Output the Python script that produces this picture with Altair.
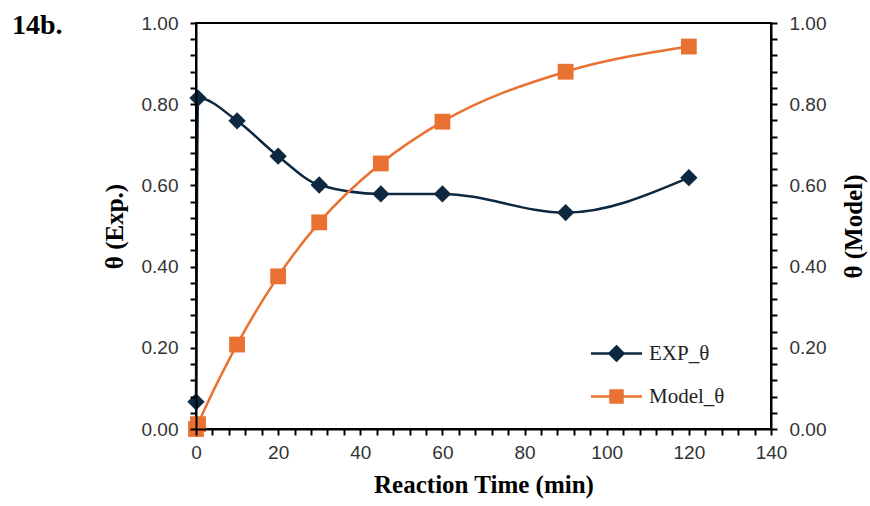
import altair as alt
import pandas as pd

# Reaction time (min) and surface coverage theta
time_exp = [0, 0.5, 10, 20, 30, 45, 60, 90, 120]
theta_exp = [0.067, 0.815, 0.759, 0.672, 0.601, 0.579, 0.579, 0.533, 0.619]
time_model = [0, 0.5, 10, 20, 30, 45, 60, 90, 120]
theta_model = [0.0, 0.012, 0.208, 0.376, 0.509, 0.654, 0.757, 0.880, 0.942]

series_names = ["EXP_θ", "Model_θ"]
series_colors = ["#0E2841", "#E97132"]

x_ticks = list(range(0, 141, 4))
y_ticks = [round(i * 0.04, 2) for i in range(26)]

exp_df = pd.DataFrame({"time": time_exp, "theta": theta_exp})
model_df = pd.DataFrame({"time": time_model, "theta": theta_model})
legend_df = pd.DataFrame({"series": series_names})

major_x = "datum.value % 20 === 0"
major_y = "abs(datum.value * 5 - round(datum.value * 5)) < 0.001"

line_style = dict(
    zindex=1,
    domainColor="#000000",
    domainOpacity=1,
    domainWidth=2,
    tickColor="#000000",
    tickOpacity=1,
    tickWidth=2,
    tickSize=6,
    labelOverlap=False,
)

x_axis = alt.Axis(
    title="Reaction Time (min)",
    values=x_ticks,
    labelExpr=f"{major_x} ? datum.label : ''",
    labelFlush=False,
    labelPadding=8,
    titlePadding=10,
    gridOpacity=0,
    **line_style,
)
x_scale = alt.Scale(domain=[0, 140], nice=False, zero=False)
y_scale = alt.Scale(domain=[0, 1], nice=False)


def y_axis(title, orient, title_baseline, title_padding):
    return alt.Axis(
        title=title,
        orient=orient,
        values=y_ticks,
        format=".2f",
        labelExpr=f"{major_y} ? datum.label : ''",
        labelPadding=12,
        titleAngle=270,
        titleBaseline=title_baseline,
        titlePadding=title_padding,
        gridOpacity=0,
        **line_style,
    )


def encode_xy(chart, axis):
    return chart.encode(
        x=alt.X("time:Q", scale=x_scale, axis=x_axis),
        y=alt.Y("theta:Q", scale=y_scale, axis=axis),
    )


exp_line = encode_xy(
    alt.Chart(exp_df).mark_line(interpolate="monotone", color=series_colors[0], strokeWidth=2.5),
    y_axis("θ (Exp.)", "left", "bottom", 14),
)
exp_pts = encode_xy(
    alt.Chart(exp_df).mark_point(shape="diamond", filled=True, size=300, opacity=1, color=series_colors[0]),
    None,
)
model_line = encode_xy(
    alt.Chart(model_df).mark_line(interpolate="monotone", color=series_colors[1], strokeWidth=2.5),
    y_axis("θ (Model)", "right", "top", 16),
)
model_pts = encode_xy(
    alt.Chart(model_df).mark_point(shape="square", filled=True, size=250, opacity=1, color=series_colors[1]),
    None,
)

# Legend symbols: a short line with the series marker on it
legend_shapes = [
    "M-1.7,0L1.7,0M0,-0.47L0.47,0L0,0.47L-0.47,0Z",
    "M-1.7,0L1.7,0M-0.4,-0.4L0.4,-0.4L0.4,0.4L-0.4,0.4Z",
]
legend_params = dict(
    title=None,
    orient="none",
    legendX=404,
    legendY=314,
    symbolSize=900,
    symbolStrokeWidth=2.5,
    symbolOpacity=1,
    labelOffset=16,
    rowPadding=14,
    padding=0,
    labelFont="Liberation Serif",
    labelFontSize=21,
    labelColor="#222222",
)
series_scale = alt.Scale(domain=series_names, range=series_colors)
legend_layer = alt.Chart(legend_df).mark_point(filled=True, size=0, opacity=1).encode(
    fill=alt.Fill("series:N", scale=series_scale, legend=alt.Legend(**legend_params)),
    stroke=alt.Stroke("series:N", scale=series_scale, legend=alt.Legend(**legend_params)),
    shape=alt.Shape("series:N", scale=alt.Scale(domain=series_names, range=legend_shapes),
                    legend=alt.Legend(**legend_params)),
)

chart = (
    alt.layer(exp_line, exp_pts, model_line, model_pts, legend_layer)
    .resolve_axis(y="independent")
    .properties(
        width=575,
        height=406,
        autosize=alt.AutoSizeParams(type="none"),
        padding={"left": 196, "top": 23, "right": 99, "bottom": 77},
        title=alt.TitleParams(
            text="14b.",
            anchor="start",
            frame="group",
            font="Liberation Serif",
            fontSize=28,
            fontWeight="bold",
            color="black",
            dx=-184,
            dy=30,
        ),
    )
    .configure_view(stroke="#000000", strokeWidth=2, strokeOpacity=1)
    .configure_axis(
        labelFont="Liberation Sans",
        labelFontSize=19,
        labelColor="#333333",
        titleFont="Liberation Serif",
        titleFontSize=25,
        titleFontWeight="bold",
        titleColor="black",
    )
)

chart.save("out.html", embed_options={"renderer": "svg", "actions": False})
